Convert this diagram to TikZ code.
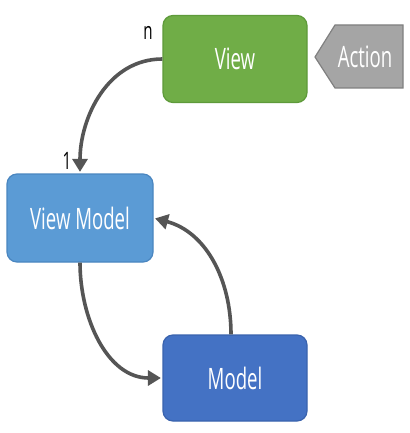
\documentclass[tikz,border=0pt]{standalone}
\usepackage{fontspec}
\setmainfont[FakeStretch=0.63]{Open Sans}
\usetikzlibrary{arrows.meta}
\definecolor{viewgreen}{HTML}{70AD47}
\definecolor{viewgreenB}{HTML}{5E9A3A}
\definecolor{vmblue}{HTML}{5B9BD5}
\definecolor{vmblueB}{HTML}{4A86C0}
\definecolor{mblue}{HTML}{4472C4}
\definecolor{mblueB}{HTML}{3A63AE}
\definecolor{actgray}{HTML}{A5A5A5}
\definecolor{actgrayB}{HTML}{808080}
\definecolor{arrowgray}{HTML}{555555}
\tikzset{
  box/.style={rounded corners=10pt, minimum width=144pt, minimum height=87pt,
    line width=1.2pt, text=white, font=\fontsize{29.5}{32}\selectfont, inner sep=0pt},
  conn/.style={draw=arrowgray, line width=3.6pt,
    -{Triangle[length=13pt,width=15pt]}, shorten >=1.5pt},
  lbl/.style={font=\fontsize{24}{26}\selectfont, text=black, inner sep=0pt}
}
\begin{document}
\begin{tikzpicture}[x=1pt,y=1pt]
\useasboundingbox[fill=white] (0,0) rectangle (409,-433);
\node[box, fill=viewgreen, draw=viewgreenB] (view) at (235,-59) {View};
\node[box, fill=vmblue, draw=vmblueB, minimum width=146pt, minimum height=88pt] (vm) at (80,-218) {View Model};
\node[box, fill=mblue, draw=mblueB, minimum height=86pt] (model) at (235,-378) {Model};
\draw[fill=actgray, draw=actgrayB, line width=1.2pt, line join=miter]
  (315,-57) -- (335,-25) -- (403,-25) -- (403,-88) -- (335,-88) -- cycle;
\node[text=white, font=\fontsize{29.5}{32}\selectfont, inner sep=0pt] (action) at (365,-57) {Action};
\draw[conn] (view.west) to[out=180, in=90] (vm.north);
\draw[conn] (vm.south) to[out=-90, in=180] (model.west);
\draw[conn] ([xshift=-4pt]model.north) to[out=90, in=-15] (vm.east);
\node[lbl] (n) at (148,-33) {n};
\node[lbl] (one) at (67,-161) {1};
\end{tikzpicture}
\end{document}
